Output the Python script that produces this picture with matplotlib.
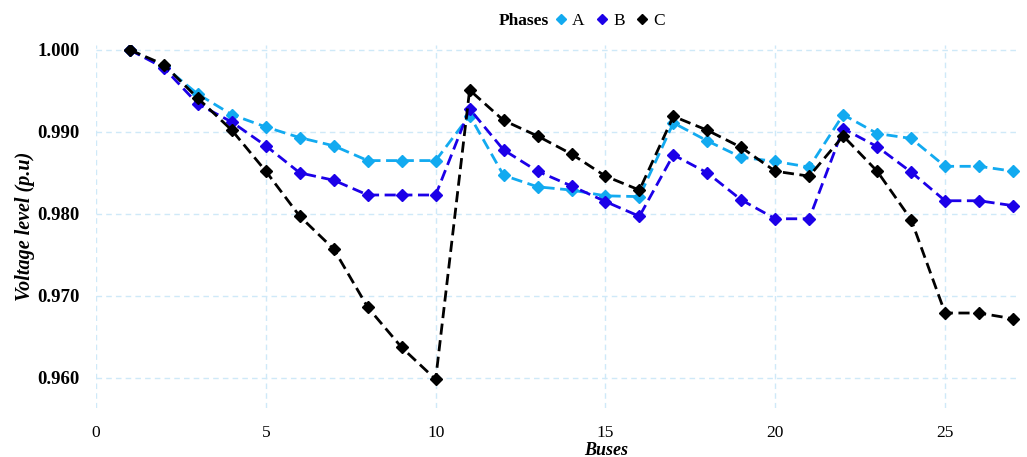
import matplotlib
matplotlib.use("Agg")
from matplotlib import pyplot as plt
from matplotlib.lines import Line2D
import numpy as np

plt.rcParams['font.family'] = ['Liberation Serif', 'DejaVu Serif']

# Data
buses = list(range(1, 28))
phase_a = [1.0000, 0.9980, 0.9946, 0.9921, 0.9906, 0.9893, 0.9883, 0.9865, 0.9865, 0.9865,
           0.9920, 0.9847, 0.9833, 0.9829, 0.9822, 0.9821, 0.9911, 0.9889, 0.9869, 0.9864,
           0.9857, 0.9921, 0.9898, 0.9892, 0.9858, 0.9858, 0.9852]
phase_b = [1.0000, 0.9978, 0.9934, 0.9912, 0.9883, 0.9850, 0.9841, 0.9823, 0.9823, 0.9823,
           0.9928, 0.9878, 0.9852, 0.9834, 0.9815, 0.9797, 0.9872, 0.9850, 0.9817, 0.9794,
           0.9794, 0.9904, 0.9882, 0.9851, 0.9816, 0.9816, 0.9810]
phase_c = [1.0000, 0.9982, 0.9941, 0.9902, 0.9852, 0.9797, 0.9757, 0.9686, 0.9637, 0.9598,
           0.9951, 0.9914, 0.9895, 0.9873, 0.9846, 0.9829, 0.9919, 0.9902, 0.9881, 0.9852,
           0.9846, 0.9895, 0.9852, 0.9793, 0.9679, 0.9679, 0.9672]
labels = ["A", "B", "C"]
colors = ["#12aaf0", "#1c00e8", "#000000"]

fig = plt.figure(figsize=(10.27, 4.57), dpi=100)
ax = fig.add_axes([0.0935, 0.107, 0.8995, 0.7945])

for vals, col in zip([phase_a, phase_b, phase_c], colors):
    ax.plot(buses, vals, linestyle="--", color=col, linewidth=2,
            marker="D", markersize=6.5, dashes=(4, 2))

ax.set_xlim(0, 27.2)
ax.set_ylim(0.9563, 1.0006)
ax.set_xticks([0, 5, 10, 15, 20, 25])
ax.set_yticks([0.96, 0.97, 0.98, 0.99, 1.0])
ax.set_yticklabels(["0.960", "0.970", "0.980", "0.990", "1.000"])
for t in ax.get_yticklabels():
    t.set_fontweight("bold")
    t.set_fontsize(13.5)
for t in ax.get_xticklabels():
    t.set_fontsize(12.5)
ax.tick_params(axis="x", length=0, pad=12)
ax.tick_params(axis="y", length=0, pad=12)

ax.grid(True, color="#cfe9f8", linestyle=(0, (4, 3)), linewidth=1)
for s in ax.spines.values():
    s.set_visible(False)

ax.set_xlabel("Buses", fontsize=13, fontweight="bold", style="italic")
ax.xaxis.set_label_coords(0.552, -0.092)
ax.set_ylabel("Voltage level (p.u)", fontsize=14.5, fontweight="bold", style="italic")
ax.yaxis.set_label_coords(-0.066, 0.5)

# Legend with inline title
fig.text(0.535, 0.955, "Phases", fontsize=12.5, fontweight="bold", ha="right", va="center")
handles = [Line2D([], [], linestyle="", marker="D", markersize=5, color=c) for c in colors]
leg = fig.legend(handles, labels, ncol=3, loc="center left", bbox_to_anchor=(0.531, 0.955),
                 frameon=False, fontsize=12.5, handlelength=0.8, handletextpad=0.25,
                 columnspacing=0.6, borderpad=0)

fig.savefig("out.png", dpi=100)
